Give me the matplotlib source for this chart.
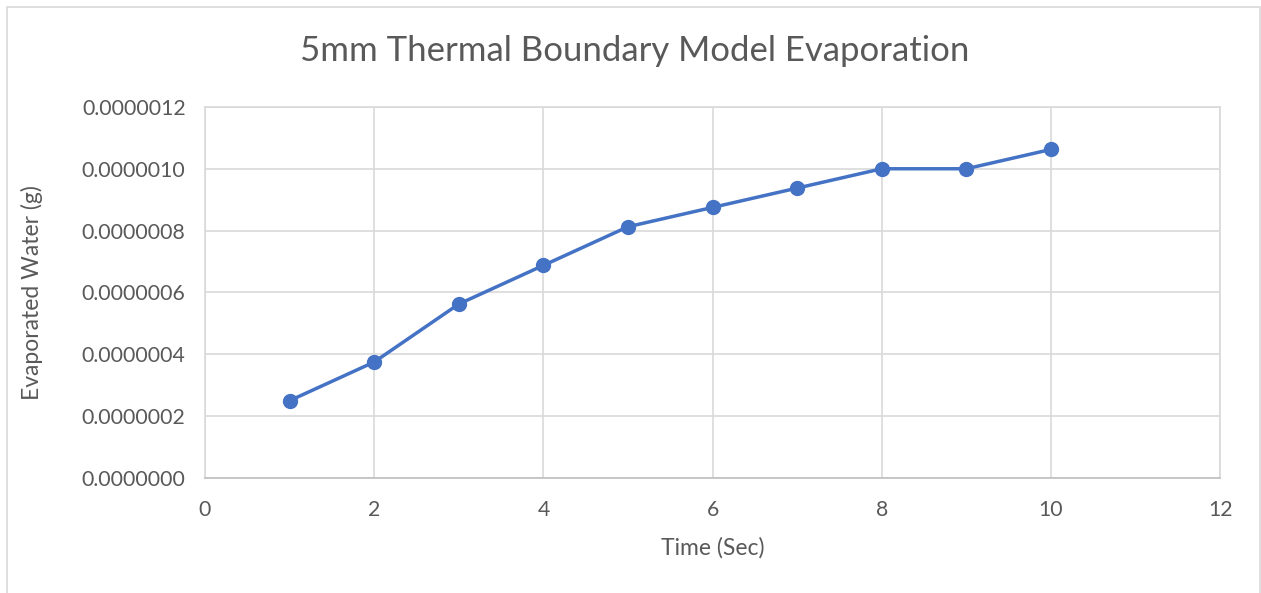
import matplotlib.pyplot as plt
from matplotlib.patches import Rectangle
from matplotlib.ticker import FormatStrFormatter, MultipleLocator

plt.rcParams['font.family'] = ['Lato', 'DejaVu Sans']

# Evaporated water over time, 5mm thermal boundary model
time_sec = [1, 2, 3, 4, 5, 6, 7, 8, 9, 10]
evaporated_g = [2.5e-7, 3.75e-7, 5.625e-7, 6.875e-7, 8.125e-7,
                8.75e-7, 9.375e-7, 1.0e-6, 1.0e-6, 1.0625e-6]

fig = plt.figure(figsize=(12.61, 5.93), dpi=100)
ax = fig.add_axes([0.1626, 0.194, 0.805, 0.6257])

# chart frame
fig.patches.append(Rectangle((7 / 1261, -0.1), 1253 / 1261, 1.1 - 7 / 593,
                             transform=fig.transFigure, fill=False,
                             edgecolor='#D9D9D9', linewidth=1.2))

ax.plot(time_sec, evaporated_g, color='#4472C4', linewidth=2.5,
        marker='o', markersize=10, zorder=3)

ax.set_xlim(0, 12)
ax.set_ylim(0, 1.2e-6)
ax.xaxis.set_major_locator(MultipleLocator(2))
ax.yaxis.set_major_locator(MultipleLocator(2e-7))
ax.yaxis.set_major_formatter(FormatStrFormatter('%.7f'))

ax.grid(True, color='#D9D9D9', linewidth=1.2)
ax.set_axisbelow(True)
for side in ['top', 'right', 'left']:
    ax.spines[side].set_color('#D9D9D9')
    ax.spines[side].set_linewidth(1.2)
ax.spines['bottom'].set_color('#BFBFBF')
ax.spines['bottom'].set_linewidth(1.2)

ax.tick_params(length=0, labelsize=15.3, colors='#595959')
ax.tick_params(axis='y', pad=14)
ax.tick_params(axis='x', pad=16)

ax.set_xlabel('Time (Sec)', fontsize=16.5, color='#595959', labelpad=12)
ax.set_ylabel('Evaporated Water (g)', fontsize=16.5, color='#595959', labelpad=28)
fig.text(0.5 * (303 + 966) / 1261, 1 - 51 / 593,
         '5mm Thermal Boundary Model Evaporation',
         ha='center', va='center', fontsize=25, color='#595959')

fig.savefig('out.png', dpi=100)
